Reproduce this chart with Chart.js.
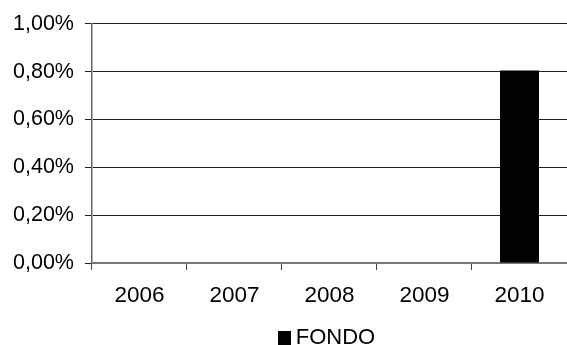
<!DOCTYPE html>
<html>
<head>
<meta charset="utf-8">
<script src="https://cdn.jsdelivr.net/npm/chart.js@4/dist/chart.umd.min.js"></script>
<style>
html,body{margin:0;padding:0;background:#fff;}
#wrap{width:567px;height:345px;}
</style>
</head>
<body>
<div id="wrap"><canvas id="c" width="567" height="345"></canvas></div>
<script>
const categories = ['2006','2007','2008','2009','2010'];
const fondoValues = [null, null, null, null, 0.805];
const seriesName = 'FONDO';
const yMin = 0, yMax = 1, yStep = 0.2;

const fontFamily = '"Liberation Sans", Arial, sans-serif';
const fmt = v => v.toFixed(2).replace('.', ',') + '%';

// legend marker: small black square drawn as a point-style image
const marker = document.createElement('canvas');
marker.width = 13; marker.height = 14;
const mctx = marker.getContext('2d');
mctx.fillStyle = '#000';
mctx.fillRect(0, 0, 13, 14);

new Chart(document.getElementById('c'), {
  type: 'bar',
  data: {
    labels: categories,
    datasets: [{
      label: seriesName,
      data: fondoValues,
      backgroundColor: '#000',
      borderWidth: 0,
      categoryPercentage: 1,
      barPercentage: 0.41
    }]
  },
  options: {
    responsive: false,
    animation: false,
    layout: { padding: { left: 2, top: 8, right: -5, bottom: -14 } },
    plugins: {
      tooltip: { enabled: false },
      legend: {
        position: 'bottom',
        fullSize: false,
        labels: {
          color: '#000',
          font: { family: fontFamily, size: 22 },
          usePointStyle: true,
          pointStyle: marker,
          boxWidth: 1,
          boxHeight: 14,
          padding: 6
        }
      }
    },
    scales: {
      x: {
        grid: { display: true, drawOnChartArea: false, drawTicks: true, tickLength: 7, color: '#444', offset: true },
        border: { display: true, color: '#777', width: 2 },
        ticks: { color: '#000', font: { family: fontFamily, size: 22.5 }, padding: 12 }
      },
      y: {
        min: yMin, max: yMax,
        grid: { color: '#222', lineWidth: 1, tickLength: 7, drawTicks: true },
        border: { display: true, color: '#666', width: 1.5 },
        ticks: {
          stepSize: yStep,
          color: '#000',
          font: { family: fontFamily, size: 21.5 },
          padding: 11,
          callback: v => fmt(v)
        }
      }
    }
  }
});
</script>
</body>
</html>
